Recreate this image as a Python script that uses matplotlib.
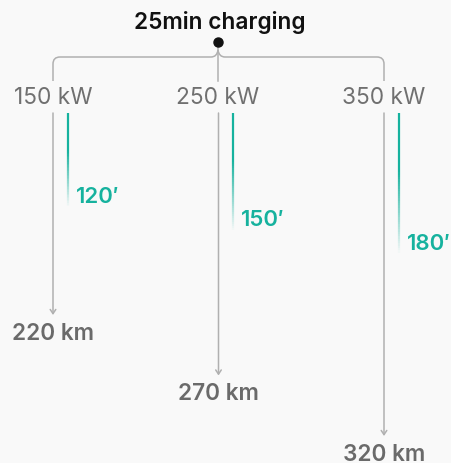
import numpy as np
import matplotlib
matplotlib.use("Agg")
import matplotlib.pyplot as plt
from matplotlib.collections import LineCollection
from matplotlib.path import Path
from matplotlib.patches import PathPatch

# data
power_labels = ["150 kW", "250 kW", "350 kW"]
range_km = [220, 270, 320]
minutes = [120, 150, 180]
title = "25min charging"

TEAL = "#16b29e"
GRAY_TXT = "#707070"
GRAY_LINE = "#b0b0b0"
BG = "#f9f9f9"

plt.rcParams['font.family'] = ['Inter', 'DejaVu Sans']

W, H = 452, 464
fig = plt.figure(figsize=(W / 100, H / 100), dpi=100, facecolor=BG)

# main axes: x = category index, y = km (inverted)
ax = fig.add_axes([0, 0, 1, 1])
ax.set_facecolor("none")
ax.set_xlim(-53 / 165.5, (W - 53) / 165.5)
ax.set_ylim((H - 49.8) / 1.21, -49.8 / 1.21)
ax.axis("off")

# twin axes for minutes (teal bars)
ax2 = ax.twinx()
ax2.set_facecolor("none")
ax2.set_ylim((H - 114) / 0.79, -114 / 0.79)
ax2.axis("off")

top_frac = 1 - 114 / H

for i, km in enumerate(range_km):
    ax.annotate("", xy=(i, km), xycoords="data",
                xytext=(i, top_frac), textcoords=("data", "axes fraction"),
                arrowprops=dict(arrowstyle="->,head_length=0.3,head_width=0.2",
                                color=GRAY_LINE, lw=1.1, shrinkA=0, shrinkB=0))
    ax.annotate(f"{km} km", xy=(i, km), xytext=(0, -18), textcoords="offset pixels",
                ha="center", va="center", fontsize=16.3, fontweight="semibold",
                color="#6a6a6a")

for i, m in enumerate(minutes):
    xb = i + 0.088
    n = 60
    ys = np.linspace(0, m, n + 1)
    segs = [[(xb, ys[k]), (xb, ys[k + 1])] for k in range(n)]
    t = np.linspace(0, 1, n)
    alpha = np.clip(np.where(t < 0.4, 1.0, 1 - (t - 0.4) / 0.6), 0, 1)
    cols = [matplotlib.colors.to_rgba(TEAL, a) for a in alpha]
    ax2.add_collection(LineCollection(segs, colors=cols, linewidths=1.6,
                                      capstyle="butt"))
    ax2.annotate(f"{m}\u2032", xy=(xb, m), xytext=(8, 12), textcoords="offset pixels",
                 ha="left", va="center", fontsize=16, fontweight="semibold",
                 color=TEAL)

# overlay in pixel coordinates for headings and bracket
ov = fig.add_axes([0, 0, 1, 1])
ov.set_facecolor("none")
ov.set_xlim(0, W)
ov.set_ylim(H, 0)
ov.axis("off")

cx = [53, 218, 384]
for x, lab in zip(cx, power_labels):
    ov.text(x, 98, lab, ha="center", va="center", fontsize=16.3, color=GRAY_TXT)

ov.text(220, 23, title, ha="center", va="center", fontsize=16.3,
        fontweight="semibold", color="#111111")
ov.plot([218], [43], "o", color="#111111", ms=6.5, zorder=5)

r = 7
yb, yc, ybot = 58, 51, 82
verts = [(cx[0], ybot), (cx[0], yb + r), (cx[0], yb), (cx[0] + r, yb),
         (cx[1] - r, yb), (cx[1] - 1, yb), (cx[1], yc),
         (cx[1] + 1, yb), (cx[1] + r, yb),
         (cx[2] - r, yb), (cx[2], yb), (cx[2], yb + r), (cx[2], ybot)]
codes = [Path.MOVETO, Path.LINETO, Path.CURVE3, Path.CURVE3,
         Path.LINETO, Path.CURVE3, Path.CURVE3,
         Path.CURVE3, Path.CURVE3,
         Path.LINETO, Path.CURVE3, Path.CURVE3, Path.LINETO]
ov.add_patch(PathPatch(Path(verts, codes), fill=False, ec=GRAY_LINE, lw=1.1))
ov.plot([218, 218], [43, ybot], color=GRAY_LINE, lw=1.1)

fig.savefig("out.png", dpi=100, facecolor=BG)
